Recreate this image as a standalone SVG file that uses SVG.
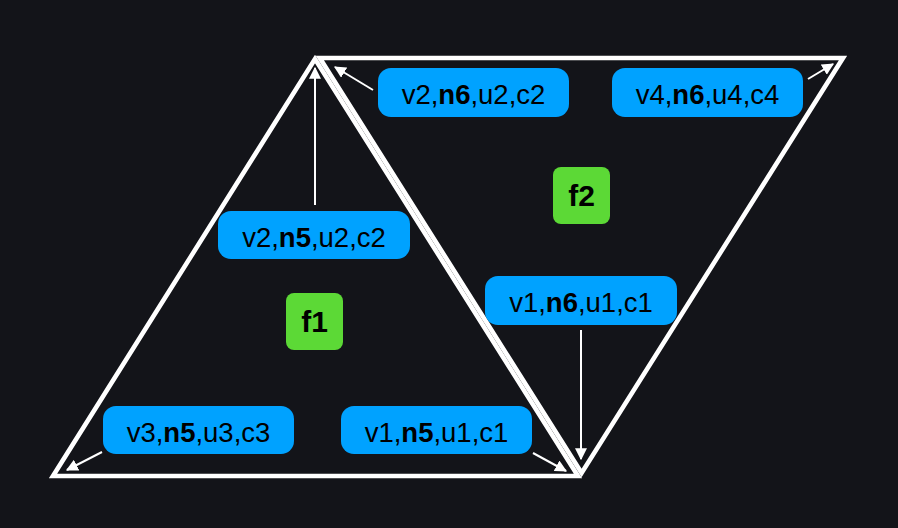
<svg xmlns="http://www.w3.org/2000/svg" width="898" height="528" viewBox="0 0 898 528">
<defs>
<style>
.face{fill:none;stroke:#ffffff;stroke-width:4.6;stroke-linejoin:miter}
.lbl{fill:#00a2ff}
.fc{fill:#5cd936}
.t{font-family:"Liberation Sans",Arial,sans-serif;font-size:27.5px;fill:#000000;text-anchor:middle}
.b{font-weight:bold}
.ft{font-family:"Liberation Sans",Arial,sans-serif;font-size:30px;font-weight:bold;fill:#000000;text-anchor:middle}
.arr{stroke:#ffffff;stroke-width:2;fill:none;marker-end:url(#ah)}
</style>
<marker id="ah" viewBox="0 0 10 10" refX="9" refY="5" markerWidth="6" markerHeight="6" markerUnits="strokeWidth" orient="auto">
<path d="M0,0 L10,5 L0,10 z" fill="#ffffff"/>
</marker>
</defs>
<rect x="0" y="0" width="898" height="528" fill="#131419"/>
<g id="face-f1">
<polygon class="face" points="315,59 53,476 578,476"/>
</g>
<g id="face-f2">
<polygon class="face" points="319.8,58 843,58 581.6,473"/>
</g>
<g id="connectors">
<line class="arr" x1="315" y1="205" x2="315" y2="68"/>
<line class="arr" x1="373" y1="90" x2="335" y2="67"/>
<line class="arr" x1="808" y1="79" x2="833" y2="64"/>
<line class="arr" x1="102" y1="452" x2="67" y2="470"/>
<line class="arr" x1="533" y1="453" x2="566" y2="471"/>
<line class="arr" x1="581" y1="330" x2="581" y2="459"/>
</g>
<g id="n-v2-n6">
<rect class="lbl" x="378" y="68" width="191" height="49" rx="13"/>
<text class="t" x="473.5" y="103.5">v2,<tspan class="b">n6</tspan>,u2,c2</text>
</g>
<g id="n-v4-n6">
<rect class="lbl" x="612" y="68" width="191" height="49" rx="13"/>
<text class="t" x="707.5" y="103.5">v4,<tspan class="b">n6</tspan>,u4,c4</text>
</g>
<g id="n-v2-n5">
<rect class="lbl" x="218" y="211" width="192" height="48" rx="13"/>
<text class="t" x="314" y="246.5">v2,<tspan class="b">n5</tspan>,u2,c2</text>
</g>
<g id="n-v1-n6">
<rect class="lbl" x="485" y="276" width="192" height="49" rx="13"/>
<text class="t" x="581" y="311.5">v1,<tspan class="b">n6</tspan>,u1,c1</text>
</g>
<g id="n-v3-n5">
<rect class="lbl" x="103" y="406" width="191" height="48" rx="13"/>
<text class="t" x="198.5" y="441.5">v3,<tspan class="b">n5</tspan>,u3,c3</text>
</g>
<g id="n-v1-n5">
<rect class="lbl" x="341" y="406" width="191" height="48" rx="13"/>
<text class="t" x="436.5" y="441.5">v1,<tspan class="b">n5</tspan>,u1,c1</text>
</g>
<g id="f1">
<rect class="fc" x="286" y="293" width="57" height="57" rx="8"/>
<text class="ft" x="314.5" y="332">f1</text>
</g>
<g id="f2">
<rect class="fc" x="553" y="167" width="57" height="57" rx="8"/>
<text class="ft" x="581.5" y="206">f2</text>
</g>
</svg>
